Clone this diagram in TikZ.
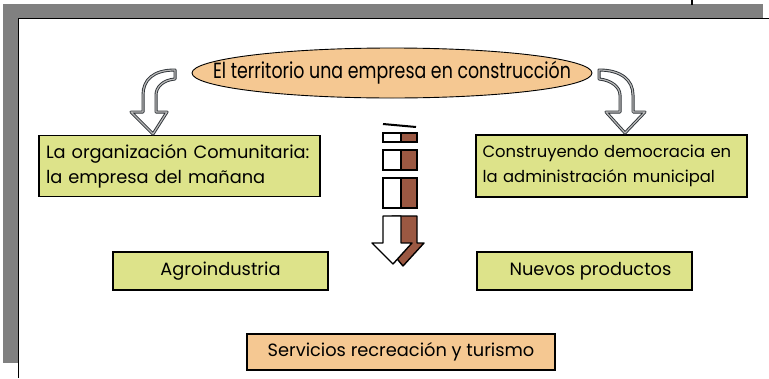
\documentclass[tikz,border=0pt]{standalone}
\usepackage{fontspec}
\setmainfont{Poppins}
\newfontfamily\narrowfont[FakeStretch=0.79]{Poppins}
\usepackage{tikz}
\usetikzlibrary{positioning, shapes.geometric}
\definecolor{boxgreen}{RGB}{221, 227, 138}
\definecolor{boxorange}{RGB}{245, 200, 146}
\definecolor{arrowbrown}{RGB}{155, 88, 66}
\definecolor{framegray}{RGB}{128, 128, 128}
\definecolor{arrowgray}{RGB}{45, 50, 55}
\tikzset{
    topicbox/.style={draw, line width=1.2pt, inner sep=0pt, font=\fontsize{17.8}{25}\selectfont},
    greenbox/.style={topicbox, fill=boxgreen},
    orangebox/.style={topicbox, fill=boxorange},
    titleoval/.style={ellipse, draw, line width=0.9pt, fill=boxorange, inner sep=0pt,
        minimum width=400pt, minimum height=50pt, font=\narrowfont\fontsize{22}{24}\selectfont},
    bendarrow/.style={draw=arrowgray, line width=0.9pt, double=gray!55, double distance=1.2pt,
        fill=white, line join=round},
    segline/.style={line width=1.4pt}
}

\begin{document}
\begin{tikzpicture}[x=1pt, y=-1pt]
    \useasboundingbox (0,0) rectangle (769,378);
    % frame
    \fill[framegray] (3,4) rectangle (763,18);
    \fill[framegray] (3,4) rectangle (18,363);
    \draw[line width=1.6pt] (18.5,378) -- (18.5,18.5) -- (769,18.5);
    \draw[line width=1.8pt] (692,0) -- (692,5);

    \node[titleoval] (title) at (392,73) {\makebox[250pt][c]{El territorio una empresa en construcción}};

    \node[greenbox, minimum width=281pt, minimum height=61pt, text width=267pt, align=left]
        (orga) at (179.5,166) {La organización Comunitaria:\\la empresa del mañana};
    \node[greenbox, minimum width=271pt, minimum height=62pt, text width=258pt, align=left,
        font=\fontsize{16.4}{25}\selectfont]
        (demo) at (611.5,166) {Construyendo democracia en\\la administración municipal};
    \node[greenbox, minimum width=215pt, minimum height=38pt] (agro) at (220.5,271) {Agroindustria};
    \node[greenbox, minimum width=215pt, minimum height=38pt] (nuevos) at (584.5,271) {\hspace{12pt}Nuevos productos};
    \node[orangebox, minimum width=308pt, minimum height=36pt] (serv) at (401,352) {Servicios recreación y turismo};

    % bent arrows
    \draw[bendarrow] (175,70) .. controls (153,70) and (143,80) .. (143,95) -- (143,112) -- (131,112)
        -- (153,134) -- (167,112) -- (156,112) -- (156,95) .. controls (156,87) and (163,80) .. (175,79) -- cycle;
    \draw[bendarrow] (599,70) .. controls (621,70) and (633,80) .. (633,95) -- (633,112) -- (645,112)
        -- (625,133) -- (606,112) -- (620,112) -- (620,95) .. controls (620,87) and (611,80) .. (599,79) -- cycle;

    % middle arrow
    \draw[line width=2pt] (383,124) -- (416,127);
    \foreach \ya/\yb in {133/142, 150/170, 178/208} {
        \fill[arrowbrown] (401,\ya) rectangle (417,\yb);
        \draw[segline] (383,\ya) rectangle (417,\yb) (401,\ya) -- (401,\yb);
    }
    \filldraw[segline, fill=arrowbrown, line join=round] (392,216) -- (417,216) -- (417,243) -- (424,243)
        -- (403,266) -- (384,243) -- (392,243) -- cycle;
    \filldraw[segline, fill=white, line join=round] (383,216) -- (401,216) -- (401,243) -- (412,243)
        -- (393,264) -- (372,243) -- (383,243) -- cycle;
\end{tikzpicture}
\end{document}
